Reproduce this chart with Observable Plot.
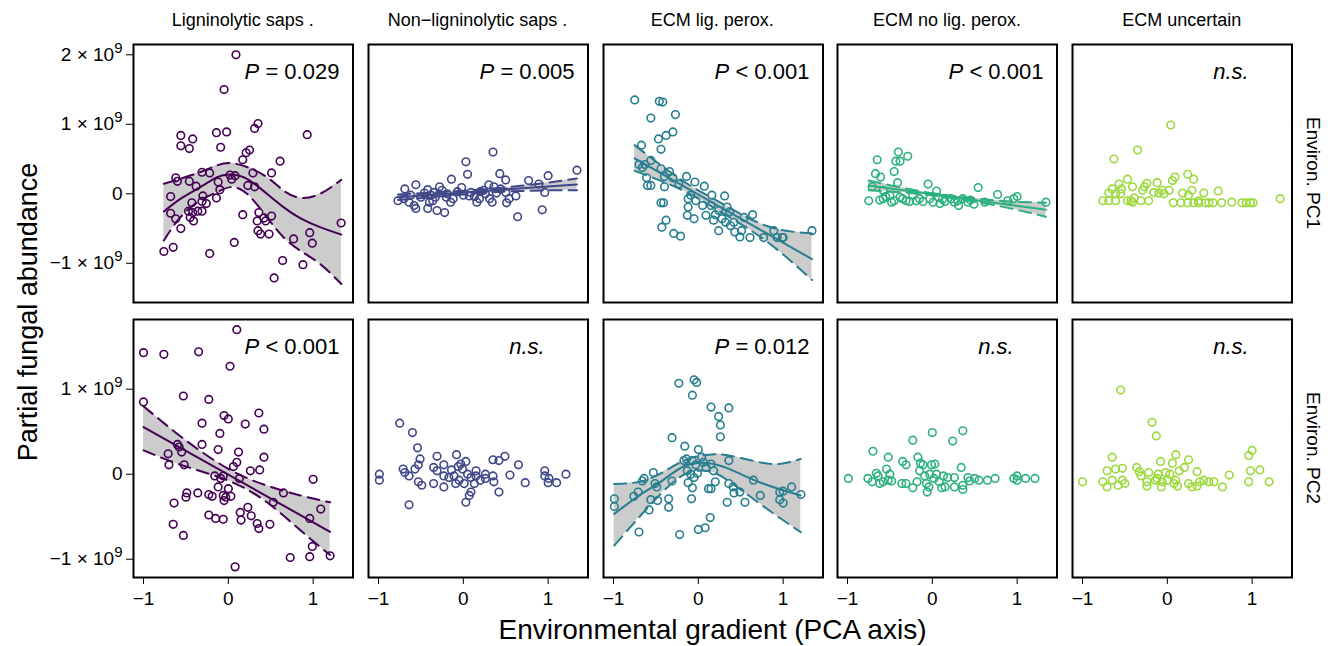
<!DOCTYPE html>
<html><head><meta charset="utf-8">
<script src="https://cdn.jsdelivr.net/npm/d3@7"></script>
<script src="https://cdn.jsdelivr.net/npm/@observablehq/plot@0.6"></script>
<style>
body{margin:0;background:#fff;}
#chart{position:relative;width:1333px;height:646px;font-family:"Liberation Sans",Arial,sans-serif;color:#000;overflow:hidden;}
.lbl{position:absolute;white-space:nowrap;line-height:1;}
</style></head><body><div id="chart"></div>
<script>
// ---------- categories / labels ----------
const groups = ["Ligninolytic saps .", "Non\u2212ligninolytic saps .", "ECM lig. perox.", "ECM no lig. perox.", "ECM uncertain"];
const rowsLab = ["Environ. PC1", "Environ. PC2"];
const pLabels = [["P = 0.029", "P = 0.005", "P < 0.001", "P < 0.001", "n.s."],
                 ["P < 0.001", "n.s.", "P = 0.012", "n.s.", "n.s."]];
const xTicks = [-1, 0, 1];
const yTicksPC1 = [-1, 0, 1, 2];   // units of 1e9
const yTicksPC2 = [-1, 0, 1];
const xTitle = "Environmental gradient (PCA axis)";
const yTitle = "Partial fungal abundance";

// ---------- points [gradient, abundance (x1e9)] ----------
const pts_PC1_lig = [[0.09,2.0],[-0.05,1.50],[-0.56,0.84],[-0.42,0.79],[-0.56,0.69],[-0.46,0.65],[-0.14,0.88],[-0.02,0.89],[-0.09,0.67],[0.35,1.01],[0.31,0.94],[0.93,0.85],[0.25,0.63],[0.21,0.59],[0.17,0.49],[0.61,0.47],[-0.31,0.31],[-0.22,0.30],[-0.62,0.23],[-0.60,0.18],[-0.46,0.18],[-0.38,0.11],[-0.12,0.17],[-0.10,0.06],[0.02,0.27],[0.08,0.26],[0.04,0.21],[0.29,0.30],[0.51,0.30],[0.23,0.12],[0.31,0.10],[-0.68,-0.04],[-0.14,-0.06],[-0.30,-0.03],[-0.31,-0.11],[-0.43,-0.13],[-0.26,-0.14],[-0.68,-0.28],[-0.62,-0.36],[-0.47,-0.25],[-0.42,-0.27],[-0.36,-0.25],[-0.31,-0.25],[-0.45,-0.34],[-0.41,-0.39],[-0.56,-0.50],[0.17,-0.30],[0.36,-0.27],[0.51,-0.32],[0.34,-0.39],[0.44,-0.39],[0.42,-0.35],[0.35,-0.53],[0.38,-0.58],[0.48,-0.58],[1.33,-0.42],[0.96,-0.56],[0.99,-0.71],[0.77,-0.65],[0.07,-0.70],[-0.22,-0.86],[-0.65,-0.77],[-0.76,-0.83],[0.64,-0.96],[0.88,-1.02],[0.54,-1.21]];
const pts_PC1_nonlig = [[0.35,0.60],[0.03,0.46],[0.05,0.28],[-0.14,0.21],[0.43,0.29],[0.50,0.20],[1.34,0.34],[1.0,0.26],[0.77,0.19],[0.89,0.14],[0.96,0.02],[0.62,-0.03],[0.64,-0.33],[0.93,-0.23],[-0.56,0.13],[-0.69,0.07],[-0.77,-0.10],[-0.70,-0.07],[-0.64,-0.12],[-0.58,-0.17],[-0.56,-0.21],[-0.46,0.01],[-0.42,0.06],[-0.38,-0.02],[-0.36,-0.10],[-0.42,-0.21],[-0.31,-0.24],[-0.22,-0.27],[-0.28,0.10],[-0.25,0.05],[-0.15,-0.12],[-0.12,-0.07],[-0.07,0.03],[-0.02,0.09],[0.07,-0.03],[0.09,0.02],[0.16,-0.12],[0.19,-0.07],[0.24,0.05],[0.30,0.13],[0.31,-0.07],[0.34,-0.12],[0.36,0.10],[0.39,0.01],[0.44,0.07],[0.50,0.02],[0.51,-0.13],[0.54,-0.07],[0.26,0.0],[0.13,-0.04],[-0.19,0.0],[-0.33,-0.05],[-0.50,-0.05],[-0.62,-0.02],[-0.40,-0.12],[-0.35,0.02],[-0.20,-0.05],[0.0,-0.02],[0.20,0.03]];
const pts_PC1_ecmlig = [[-0.75,1.35],[-0.46,1.33],[-0.42,1.32],[-0.27,1.14],[-0.56,1.09],[-0.30,0.89],[-0.38,0.84],[-0.47,0.79],[-0.67,0.70],[-0.44,0.64],[-0.56,0.48],[-0.70,0.42],[-0.63,0.42],[-0.66,0.38],[-0.44,0.36],[-0.34,0.32],[-0.61,0.23],[-0.60,0.12],[-0.56,0.12],[-0.40,0.10],[-0.40,0.25],[-0.30,0.23],[-0.23,0.14],[-0.14,0.25],[-0.04,0.17],[0.07,0.11],[0.16,-0.02],[0.31,-0.03],[-0.09,-0.02],[-0.12,-0.07],[-0.12,-0.19],[-0.13,-0.31],[-0.05,-0.36],[-0.44,-0.13],[-0.41,-0.13],[-0.38,-0.38],[-0.43,-0.48],[-0.29,-0.57],[-0.21,-0.61],[-0.03,-0.10],[0.05,-0.17],[0.09,-0.31],[0.15,-0.17],[0.20,-0.30],[0.24,-0.24],[0.24,-0.53],[0.28,-0.36],[0.34,-0.19],[0.37,-0.26],[0.38,-0.46],[0.42,-0.41],[0.43,-0.55],[0.49,-0.62],[0.54,-0.34],[0.51,-0.53],[0.61,-0.63],[0.64,-0.30],[0.77,-0.63],[0.89,-0.53],[0.93,-0.63],[0.99,-0.63],[1.0,-0.63],[1.34,-0.53],[0.18,-0.38],[0.32,-0.41]];
const pts_PC1_ecmno = [[-0.40,0.60],[-0.29,0.54],[-0.43,0.47],[-0.38,0.47],[-0.65,0.49],[-0.45,0.32],[-0.67,0.29],[-0.61,0.24],[-0.41,0.16],[-0.05,0.14],[0.54,0.09],[0.05,0.04],[-0.71,0.10],[-0.58,0.05],[-0.75,-0.10],[-0.58,-0.07],[-0.50,-0.02],[-0.48,-0.12],[-0.38,-0.05],[-0.31,-0.10],[-0.23,-0.02],[-0.15,-0.07],[-0.11,-0.11],[-0.03,-0.07],[0.01,-0.12],[0.07,-0.05],[0.09,-0.14],[0.15,-0.11],[0.22,-0.07],[0.26,-0.12],[0.31,-0.17],[0.36,-0.07],[0.42,-0.12],[0.49,-0.15],[0.62,-0.12],[0.77,-0.01],[0.89,-0.10],[0.96,-0.07],[1.0,-0.04],[1.34,-0.12],[-0.45,-0.10],[-0.27,-0.11],[-0.19,-0.10],[-0.35,-0.07],[-0.55,-0.04],[-0.62,-0.09],[0.12,-0.08],[0.30,-0.10],[0.45,-0.09]];
const pts_PC1_ecmunc = [[0.04,0.99],[-0.35,0.63],[-0.63,0.50],[0.24,0.28],[0.31,0.21],[0.09,0.24],[0.06,0.19],[-0.47,0.21],[-0.57,0.14],[-0.65,0.07],[-0.69,0.01],[-0.61,0.0],[-0.55,0.0],[-0.54,0.07],[-0.41,0.10],[-0.29,0.05],[-0.27,0.10],[-0.24,0.15],[-0.12,0.16],[-0.16,0.02],[-0.10,0.01],[-0.06,0.05],[-0.04,0.0],[0.02,0.05],[0.18,0.01],[0.25,-0.02],[0.29,0.05],[0.37,-0.10],[0.43,0.01],[0.60,0.04],[-0.76,-0.10],[-0.69,-0.10],[-0.61,-0.10],[-0.47,-0.10],[-0.43,-0.10],[-0.41,-0.12],[-0.39,-0.06],[-0.31,-0.10],[-0.22,-0.10],[0.07,-0.13],[0.16,-0.13],[0.24,-0.13],[0.31,-0.13],[0.37,-0.13],[0.45,-0.13],[0.49,-0.13],[0.54,-0.13],[0.64,-0.13],[0.76,-0.12],[0.88,-0.13],[0.93,-0.13],[0.98,-0.13],[1.01,-0.13],[1.33,-0.07]];
const pts_PC2_lig = [[0.10,1.70],[-1.0,1.43],[-0.76,1.41],[-0.35,1.44],[0.02,1.27],[-0.53,0.92],[-0.23,0.88],[-1.0,0.85],[-0.05,0.69],[0.0,0.65],[0.36,0.72],[-0.31,0.60],[0.20,0.59],[0.42,0.53],[-0.10,0.48],[-0.60,0.35],[-0.58,0.32],[-0.31,0.35],[-0.12,0.29],[0.12,0.26],[-0.55,0.26],[-0.71,0.24],[0.42,0.20],[-0.70,0.11],[-0.52,0.11],[0.10,0.14],[0.06,0.09],[0.26,0.04],[0.37,0.05],[-0.16,-0.02],[-0.09,-0.05],[-0.06,-0.02],[0.13,-0.05],[1.0,-0.06],[-0.12,-0.15],[0.0,-0.17],[-0.49,-0.22],[-0.50,-0.27],[-0.36,-0.22],[-0.23,-0.24],[-0.19,-0.26],[-0.06,-0.25],[-0.03,-0.27],[0.03,-0.26],[-0.05,-0.31],[0.65,-0.22],[0.53,-0.33],[-0.64,-0.34],[1.09,-0.41],[0.23,-0.39],[0.14,-0.45],[0.27,-0.49],[-0.23,-0.48],[-0.15,-0.52],[-0.06,-0.53],[0.15,-0.54],[0.34,-0.58],[0.36,-0.64],[0.49,-0.59],[0.96,-0.52],[-0.65,-0.59],[-0.53,-0.72],[0.99,-0.85],[0.73,-0.98],[0.96,-0.97],[1.20,-0.96],[0.08,-1.09]];
const pts_PC2_nonlig = [[-0.75,0.60],[-0.60,0.49],[-0.54,0.31],[-0.51,0.18],[-0.53,0.11],[-0.57,0.06],[-0.71,0.06],[-0.69,0.02],[-0.64,-0.02],[-0.99,0.0],[-0.99,-0.07],[-0.53,-0.09],[-0.49,-0.13],[-0.35,-0.11],[-0.64,-0.36],[-0.31,0.21],[-0.35,0.08],[-0.31,0.04],[-0.23,0.11],[-0.23,-0.02],[-0.23,-0.15],[-0.17,-0.04],[-0.14,0.05],[-0.11,-0.02],[-0.08,0.23],[-0.06,0.09],[-0.03,0.12],[-0.01,0.06],[-0.05,-0.07],[-0.09,-0.11],[0.01,-0.11],[0.03,0.15],[0.05,0.0],[0.09,-0.04],[0.15,0.04],[0.15,-0.02],[0.13,-0.11],[0.09,-0.21],[0.07,-0.25],[0.03,-0.33],[0.20,-0.07],[0.26,0.0],[0.26,-0.05],[0.35,0.17],[0.42,0.16],[0.49,0.21],[0.35,-0.02],[0.36,-0.09],[0.42,-0.21],[0.55,-0.01],[0.65,0.11],[0.73,-0.10],[0.96,0.04],[0.96,-0.02],[1.01,-0.05],[1.0,-0.10],[1.10,-0.10],[1.21,0.0]];
const pts_PC2_ecmlig = [[-0.05,1.11],[-0.02,1.08],[-0.23,1.07],[-0.07,0.93],[0.15,0.79],[0.36,0.78],[0.24,0.68],[0.26,0.58],[0.26,0.44],[-0.31,0.43],[-0.16,0.33],[0.0,0.29],[0.04,0.20],[-0.17,0.16],[-0.14,0.18],[-0.07,0.16],[-0.03,0.11],[0.06,0.14],[0.09,0.08],[0.15,0.12],[0.18,0.04],[0.36,0.16],[-0.13,0.04],[-0.09,0.0],[-0.05,-0.04],[-0.12,-0.10],[-0.07,-0.16],[-0.01,0.01],[0.20,-0.09],[0.12,-0.17],[0.15,-0.17],[0.36,-0.11],[0.41,-0.15],[0.42,-0.22],[0.49,-0.21],[0.55,-0.33],[0.65,-0.07],[0.73,-0.25],[0.34,-0.33],[-0.08,-0.29],[0.14,-0.51],[0.08,-0.63],[0.0,-0.65],[-0.22,-0.71],[-0.70,-0.68],[-0.31,-0.08],[-0.51,-0.11],[-0.53,0.02],[-0.64,-0.05],[-0.66,-0.08],[-0.71,-0.21],[-0.76,-0.26],[-0.56,-0.30],[-0.48,-0.31],[-0.35,-0.29],[-0.35,-0.39],[-0.58,-0.42],[-0.99,-0.29],[-0.99,-0.38],[0.96,-0.21],[1.0,-0.20],[0.96,-0.30],[1.0,-0.34],[1.10,-0.15],[1.21,-0.24],[-0.49,-0.15]];
const pts_PC2_ecmno = [[0.36,0.51],[0.0,0.49],[-0.23,0.40],[0.24,0.39],[-0.70,0.27],[-0.52,0.20],[-0.17,0.20],[-0.35,0.15],[-0.31,0.11],[-0.14,0.13],[-0.11,0.11],[0.03,0.12],[-0.01,0.11],[0.34,0.08],[-0.54,0.06],[-0.66,0.01],[-0.64,-0.02],[-0.50,0.0],[-0.99,-0.05],[-0.76,-0.05],[-0.71,-0.09],[-0.62,-0.11],[-0.58,-0.09],[-0.52,-0.07],[-0.48,-0.08],[-0.36,-0.11],[-0.31,-0.11],[-0.23,-0.16],[-0.18,-0.09],[-0.15,0.04],[-0.09,-0.02],[-0.07,-0.11],[-0.06,-0.21],[-0.04,-0.15],[-0.03,0.0],[0.02,-0.05],[0.05,0.0],[0.08,-0.09],[0.11,-0.16],[0.15,-0.15],[0.13,-0.02],[0.18,-0.04],[0.26,-0.04],[0.26,-0.15],[0.36,-0.18],[0.36,-0.13],[0.42,-0.04],[0.44,-0.08],[0.50,-0.05],[0.55,-0.07],[0.65,-0.07],[0.74,-0.05],[0.96,-0.05],[1.0,-0.02],[1.0,-0.07],[1.10,-0.05],[1.21,-0.05]];
const pts_PC2_ecmunc = [[-0.55,0.99],[-0.18,0.61],[-0.13,0.45],[1.0,0.28],[0.96,0.22],[0.10,0.23],[0.25,0.17],[-0.08,0.15],[-0.65,0.20],[-0.71,0.04],[-0.61,0.06],[-0.53,0.07],[-0.36,0.08],[-0.33,0.03],[-0.31,-0.02],[-0.22,0.02],[-0.11,0.0],[-0.02,0.02],[0.03,0.0],[0.06,0.13],[0.14,0.04],[0.20,0.08],[0.35,0.03],[0.73,-0.01],[0.98,0.04],[1.09,0.05],[-1.0,-0.09],[-0.76,-0.09],[-0.71,-0.15],[-0.65,-0.07],[-0.58,-0.13],[-0.53,-0.07],[-0.50,-0.11],[-0.24,-0.09],[-0.24,-0.14],[-0.14,-0.07],[-0.12,-0.05],[-0.06,-0.09],[-0.07,-0.15],[0.0,-0.07],[0.08,-0.11],[0.12,-0.14],[0.10,-0.07],[0.25,-0.11],[0.29,-0.15],[0.35,-0.14],[0.38,-0.09],[0.43,-0.07],[0.49,-0.09],[0.55,-0.09],[0.65,-0.15],[0.96,-0.09],[1.20,-0.09]];

// ---------- fitted curves and confidence bands (x1e9) ----------
const fitX_PC1_lig  = [-0.76,-0.565,-0.33,-0.133,0.024,0.22,0.455,0.65,0.847,1.082,1.333];
const fitY_PC1_lig  = [-0.255,-0.072,0.096,0.24,0.279,0.216,0.0,-0.192,-0.351,-0.48,-0.587];
const ciLo_PC1_lig  = [-0.673,-0.337,-0.096,0.024,0.096,0.0,-0.337,-0.625,-0.817,-1.01,-1.298];
const ciHi_PC1_lig  = [0.144,0.216,0.313,0.409,0.442,0.385,0.24,0.048,-0.058,0.0,0.202];

const fitX_PC1_nonlig = [-0.77,1.34];
const fitY_PC1_nonlig = [-0.05,0.135];
const ciX_PC1_nonlig  = [-0.77,0.0,0.3,0.8,1.34];
const ciLo_PC1_nonlig = [-0.09,-0.01,0.02,0.045,0.05];
const ciHi_PC1_nonlig = [-0.01,0.045,0.07,0.13,0.22];

const fitX_PC1_ecmlig = [-0.75,1.34];
const fitY_PC1_ecmlig = [0.51,-0.94];
const ciX_PC1_ecmlig  = [-0.75,-0.2,0.25,0.8,1.34];
const ciLo_PC1_ecmlig = [0.33,0.06,-0.25,-0.68,-1.24];
const ciHi_PC1_ecmlig = [0.70,0.20,-0.12,-0.46,-0.57];

const fitX_PC1_ecmno = [-0.75,1.34];
const fitY_PC1_ecmno = [0.12,-0.23];
const ciX_PC1_ecmno  = [-0.75,-0.2,0.25,0.8,1.34];
const ciLo_PC1_ecmno = [0.05,0.005,-0.065,-0.18,-0.33];
const ciHi_PC1_ecmno = [0.19,0.05,-0.03,-0.10,-0.13];

const fitX_PC2_lig = [-1.0,1.2];
const fitY_PC2_lig = [0.555,-0.677];
const ciX_PC2_lig  = [-1.0,-0.53,0.0,0.455,0.85,1.2];
const ciLo_PC2_lig = [0.28,0.10,-0.075,-0.33,-0.66,-0.95];
const ciHi_PC2_lig = [0.80,0.42,0.063,-0.134,-0.25,-0.33];

const fitX_PC2_ecmlig = [-0.992,-0.698,-0.424,-0.149,0.125,0.361,0.675,0.949,1.208];
const fitY_PC2_ecmlig = [-0.467,-0.251,-0.075,0.102,0.129,0.063,-0.075,-0.173,-0.251];
const ciLo_PC2_ecmlig = [-0.839,-0.506,-0.212,0.004,0.035,-0.082,-0.31,-0.506,-0.682];
const ciHi_PC2_ecmlig = [-0.114,-0.09,0.02,0.17,0.23,0.22,0.15,0.12,0.18];

// ---------- assemble ----------
const tbl = (xs, cols) => xs.map((x, i) => Object.fromEntries([["x", x], ...Object.entries(cols).map(([k, v]) => [k, v[i]])]));
const fitsByPanel = [
  [
    {fit: tbl(fitX_PC1_lig, {y: fitY_PC1_lig}), ci: tbl(fitX_PC1_lig, {lo: ciLo_PC1_lig, hi: ciHi_PC1_lig}), curved: true},
    {fit: tbl(fitX_PC1_nonlig, {y: fitY_PC1_nonlig}), ci: tbl(ciX_PC1_nonlig, {lo: ciLo_PC1_nonlig, hi: ciHi_PC1_nonlig})},
    {fit: tbl(fitX_PC1_ecmlig, {y: fitY_PC1_ecmlig}), ci: tbl(ciX_PC1_ecmlig, {lo: ciLo_PC1_ecmlig, hi: ciHi_PC1_ecmlig})},
    {fit: tbl(fitX_PC1_ecmno, {y: fitY_PC1_ecmno}), ci: tbl(ciX_PC1_ecmno, {lo: ciLo_PC1_ecmno, hi: ciHi_PC1_ecmno})},
    null
  ],
  [
    {fit: tbl(fitX_PC2_lig, {y: fitY_PC2_lig}), ci: tbl(ciX_PC2_lig, {lo: ciLo_PC2_lig, hi: ciHi_PC2_lig})},
    null,
    {fit: tbl(fitX_PC2_ecmlig, {y: fitY_PC2_ecmlig}), ci: tbl(fitX_PC2_ecmlig, {lo: ciLo_PC2_ecmlig, hi: ciHi_PC2_ecmlig}), curved: true},
    null, null
  ]
];
const pointsByPanel = [
  [pts_PC1_lig, pts_PC1_nonlig, pts_PC1_ecmlig, pts_PC1_ecmno, pts_PC1_ecmunc],
  [pts_PC2_lig, pts_PC2_nonlig, pts_PC2_ecmlig, pts_PC2_ecmno, pts_PC2_ecmunc]
];

// ---------- layout / style ----------
const FONT = '"Liberation Sans", Arial, sans-serif';
const colors = [0, 0.2125, 0.425, 0.6375, 0.85].map(t => d3.interpolateViridis(t));
const PW = 219.5, PH = 258, STEP = 234.75, LEFT0 = 133;
const rowTops = [44, 319];
const xDomain = [-1.118, 1.47];
const yDomains = [[-1.564, 2.148], [-1.215, 1.82]];
const yTicks = [yTicksPC1, yTicksPC2];
const TICK_FS = 19;
const fmtX = d => (d < 0 ? "\u2212" : "") + Math.abs(d);
const fmtY = d => d === 0 ? "0" : (d < 0 ? "\u2212" : "") + Math.abs(d) + " \u00d7 10\u2079";

const chart = document.getElementById("chart");
const NS = "http://www.w3.org/2000/svg";

function decorate(svg) {
  svg.querySelectorAll("text").forEach(t => {
    const s = t.textContent;
    let m;
    if ((m = s.match(/^(.*)10\u2079$/))) {
      t.textContent = m[1] + "10";
      const sup = document.createElementNS(NS, "tspan");
      sup.setAttribute("font-size", 15);
      sup.setAttribute("dy", -8);
      sup.textContent = "9";
      t.appendChild(sup);
    } else if ((m = s.match(/^P (.*)$/))) {
      t.textContent = "";
      const a = document.createElementNS(NS, "tspan");
      a.setAttribute("font-style", "italic");
      a.textContent = "P";
      const b = document.createElementNS(NS, "tspan");
      b.textContent = " " + m[1];
      t.appendChild(a); t.appendChild(b);
    } else if (s === "n.s.") {
      t.setAttribute("font-style", "italic");
    }
  });
}

for (let r = 0; r < 2; r++) {
  for (let c = 0; c < 5; c++) {
    const isLeft = c === 0, isBottom = r === 1;
    const ml = isLeft ? LEFT0 : 1, mr = 1, mt = 1, mb = isBottom ? 40 : 1;
    const color = colors[c];
    const f = fitsByPanel[r][c];
    const curve = "natural";
    const marks = [];
    if (f) {
      marks.push(Plot.areaY(f.ci, {x: "x", y1: "lo", y2: "hi", fill: "#cccccc", curve}));
    }
    marks.push(Plot.dot(pointsByPanel[r][c], {x: d => d[0], y: d => d[1], r: 3.8, stroke: color, strokeWidth: 1.6, fill: "none"}));
    if (f) {
      marks.push(Plot.line(f.ci, {x: "x", y: "lo", stroke: color, strokeWidth: 2, strokeDasharray: "12,7", curve}));
      marks.push(Plot.line(f.ci, {x: "x", y: "hi", stroke: color, strokeWidth: 2, strokeDasharray: "12,7", curve}));
      marks.push(Plot.line(f.fit, {x: "x", y: "y", stroke: color, strokeWidth: 2, curve: f.curved ? "natural" : "linear"}));
    }
    marks.push(Plot.text([pLabels[r][c]], {text: d => d, frameAnchor: "top-left", dx: 158.5, dy: 19, textAnchor: "middle", fontSize: 22, fill: "black"}));
    marks.push(Plot.frame({stroke: "black", strokeWidth: 2}));
    const svg = Plot.plot({
      width: PW + ml + mr, height: PH + mt + mb,
      marginLeft: ml, marginRight: mr, marginTop: mt, marginBottom: mb,
      style: {background: "transparent", fontFamily: FONT, fontSize: TICK_FS + "px", color: "black", overflow: "visible"},
      x: {domain: xDomain, ticks: xTicks, tickFormat: fmtX, tickSize: 7, tickPadding: 7, axis: isBottom ? "bottom" : null, label: null},
      y: {domain: yDomains[r], ticks: yTicks[r], tickFormat: fmtY, tickSize: 7, tickPadding: 4, axis: isLeft ? "left" : null, label: null},
      marks
    });
    svg.style.position = "absolute";
    svg.style.left = (LEFT0 + c * STEP - ml) + "px";
    svg.style.top = (rowTops[r] - mt) + "px";
    chart.appendChild(svg);
    decorate(svg);
  }
}

function addLabel(text, cx, cy, size, rot) {
  const d = document.createElement("div");
  d.className = "lbl";
  d.textContent = text;
  d.style.left = cx + "px";
  d.style.top = cy + "px";
  d.style.fontSize = size + "px";
  d.style.transform = `translate(-50%,-50%)` + (rot ? ` rotate(${rot}deg)` : "");
  chart.appendChild(d);
}
groups.forEach((g, c) => addLabel(g, LEFT0 + c * STEP + PW / 2, 20, 18, 0));
rowsLab.forEach((g, r) => addLabel(g, 1313, rowTops[r] + PH / 2, 19, 90));
addLabel(yTitle, 28, 312, 27, -90);
addLabel(xTitle, 712.5, 630, 28, 0);
</script></body></html>
